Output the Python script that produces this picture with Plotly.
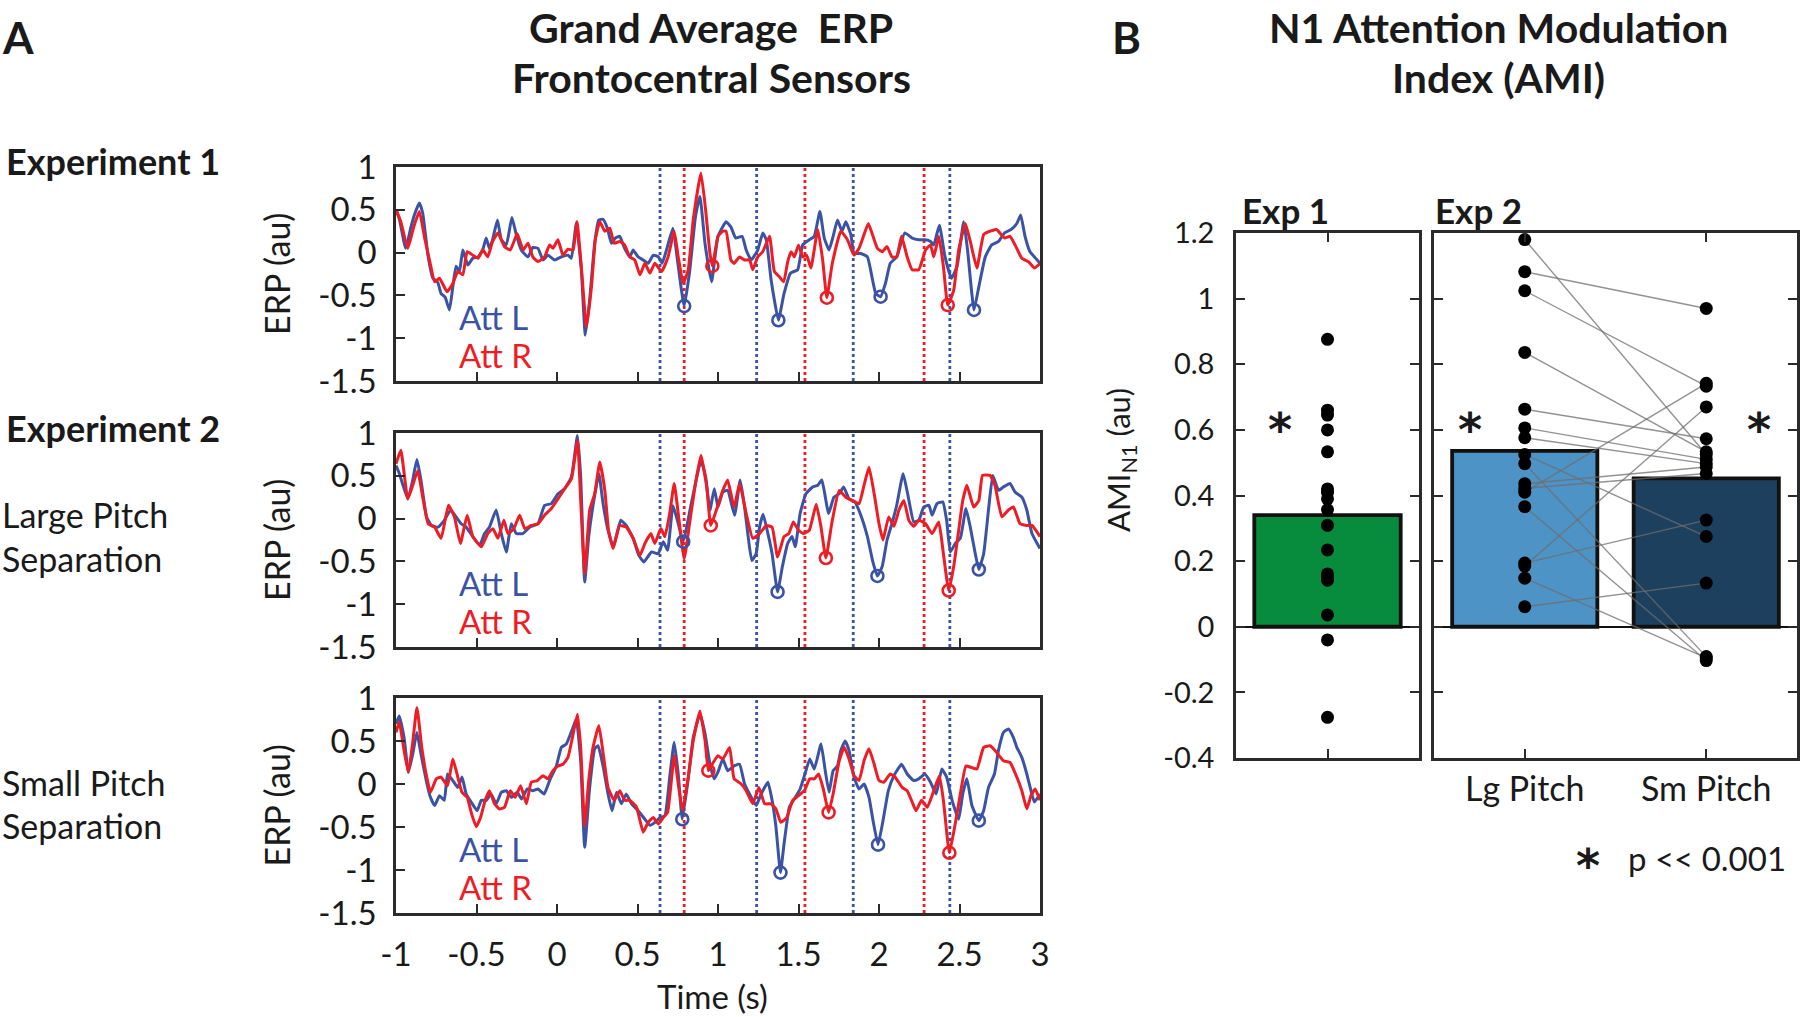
import plotly.graph_objects as go

# ---------------- DATA ----------------
# Panel A: grand-average ERP traces, (time s, amplitude au)
erp_attL_exp1 = [(-1.0,0.5),(-0.98,0.40),(-0.94,0.05),(-0.907,0.30),(-0.886,0.44),(-0.855,0.58),(-0.834,0.46),(-0.80,-0.05),(-0.77,-0.30),(-0.74,-0.35),(-0.72,-0.48),(-0.695,-0.52),(-0.668,-0.67),(-0.647,-0.40),(-0.627,-0.16),(-0.606,-0.22),(-0.585,0.03),(-0.554,-0.145),(-0.523,-0.066),(-0.49,-0.05),(-0.46,0.04),(-0.44,0.17),(-0.42,0.05),(-0.40,0.15),(-0.37,0.38),(-0.346,0.15),(-0.315,0.09),(-0.28,0.41),(-0.253,0.21),(-0.222,0.03),(-0.18,-0.05),(-0.15,0.06),(-0.118,0.05),(-0.087,-0.086),(-0.056,-0.03),(-0.015,-0.086),(0.027,-0.05),(0.068,-0.03),(0.089,-0.066),(0.12,0.34),(0.151,-0.20),(0.176,-0.965),(0.203,-0.55),(0.234,0.11),(0.259,0.38),(0.286,0.39),(0.313,0.285),(0.338,0.11),(0.363,0.17),(0.39,0.19),(0.42,0.05),(0.452,-0.05),(0.473,0.03),(0.504,-0.05),(0.535,-0.086),(0.566,-0.125),(0.598,-0.03),(0.63,-0.05),(0.653,-0.125),(0.68,0.03),(0.72,0.285),(0.748,-0.086),(0.79,-0.625),(0.825,-0.20),(0.86,0.42),(0.888,0.656),(0.919,0.11),(0.96,-0.34),(1.0,0.19),(1.05,0.36),(1.08,0.30),(1.11,0.17),(1.15,0.19),(1.175,0.03),(1.206,-0.086),(1.247,0.03),(1.278,0.23),(1.30,0.15),(1.33,-0.32),(1.375,-0.79),(1.41,-0.48),(1.45,-0.24),(1.495,-0.20),(1.526,0.09),(1.567,0.15),(1.598,0.19),(1.633,0.48),(1.66,0.17),(1.69,0.03),(1.715,0.19),(1.742,0.38),(1.77,0.25),(1.794,0.36),(1.825,0.21),(1.845,-0.01),(1.887,-0.01),(1.928,-0.05),(1.96,-0.32),(1.98,-0.48),(2.01,-0.515),(2.04,-0.36),(2.07,-0.125),(2.11,-0.05),(2.16,0.23),(2.206,0.17),(2.247,0.15),(2.289,0.15),(2.32,0.13),(2.34,0.09),(2.375,0.32),(2.41,-0.05),(2.45,-0.30),(2.485,-0.16),(2.526,0.36),(2.55,0.03),(2.59,-0.67),(2.62,-0.40),(2.66,-0.05),(2.70,0.09),(2.742,0.13),(2.78,0.23),(2.82,0.27),(2.856,0.34),(2.88,0.44),(2.907,0.19),(2.938,0.01),(2.965,-0.05),(3.0,-0.125)]
erp_attR_exp1 = [(-1.0,0.5),(-0.97,0.36),(-0.927,0.05),(-0.89,0.30),(-0.855,0.48),(-0.82,0.15),(-0.79,-0.105),(-0.76,-0.34),(-0.73,-0.30),(-0.683,-0.457),(-0.647,-0.36),(-0.616,-0.22),(-0.585,-0.26),(-0.558,0.01),(-0.523,-0.03),(-0.49,-0.066),(-0.46,0.03),(-0.43,-0.05),(-0.40,0.13),(-0.367,0.23),(-0.326,0.07),(-0.29,0.03),(-0.247,0.22),(-0.21,0.03),(-0.18,0.11),(-0.15,-0.05),(-0.118,-0.105),(-0.077,-0.05),(-0.046,0.09),(-0.025,0.05),(0.006,0.15),(0.037,-0.03),(0.068,0.04),(0.10,0.03),(0.124,0.36),(0.151,-0.16),(0.183,-0.87),(0.214,-0.40),(0.238,0.15),(0.266,0.36),(0.297,0.25),(0.328,0.285),(0.355,0.11),(0.39,0.13),(0.42,0.09),(0.452,-0.05),(0.483,-0.086),(0.515,-0.26),(0.546,-0.125),(0.577,-0.24),(0.608,-0.125),(0.65,-0.22),(0.69,-0.05),(0.728,0.25),(0.753,-0.05),(0.784,-0.36),(0.815,-0.20),(0.846,0.38),(0.894,0.93),(0.923,0.50),(0.95,-0.01),(0.965,-0.156),(1.0,0.19),(1.03,0.25),(1.05,0.25),(1.08,-0.086),(1.10,-0.125),(1.134,-0.05),(1.165,-0.086),(1.196,-0.086),(1.216,-0.20),(1.247,-0.05),(1.278,0.01),(1.32,0.19),(1.35,-0.22),(1.38,-0.28),(1.408,-0.34),(1.433,-0.105),(1.454,0.01),(1.474,-0.05),(1.50,0.09),(1.526,-0.05),(1.55,-0.03),(1.577,-0.18),(1.62,0.27),(1.65,-0.086),(1.676,-0.527),(1.71,-0.125),(1.763,0.25),(1.804,0.15),(1.845,-0.03),(1.876,0.05),(1.907,0.21),(1.934,0.34),(1.963,0.19),(1.99,0.05),(2.02,0.01),(2.05,0.07),(2.08,-0.05),(2.11,-0.05),(2.14,0.19),(2.175,-0.05),(2.206,-0.20),(2.247,-0.20),(2.289,0.03),(2.32,0.09),(2.34,-0.05),(2.371,0.19),(2.40,-0.16),(2.427,-0.613),(2.464,-0.44),(2.495,0.03),(2.536,0.34),(2.567,0.13),(2.608,-0.18),(2.65,0.21),(2.69,0.25),(2.73,0.27),(2.78,0.17),(2.814,0.19),(2.845,0.09),(2.887,-0.066),(2.928,-0.105),(2.965,-0.18),(3.0,-0.125)]
erp_attL_large = [(-1.0,0.62),(-0.98,0.53),(-0.927,0.23),(-0.896,0.45),(-0.87,0.69),(-0.845,0.45),(-0.81,0.02),(-0.78,-0.08),(-0.74,-0.10),(-0.70,-0.02),(-0.66,0.10),(-0.627,0.02),(-0.595,-0.06),(-0.564,-0.10),(-0.523,-0.21),(-0.48,-0.31),(-0.45,-0.175),(-0.42,-0.10),(-0.378,0.10),(-0.346,-0.175),(-0.315,-0.39),(-0.284,-0.06),(-0.253,-0.175),(-0.212,-0.175),(-0.17,-0.10),(-0.118,-0.06),(-0.077,0.155),(-0.035,0.175),(0.006,0.29),(0.048,0.35),(0.09,0.49),(0.127,0.97),(0.147,0.49),(0.172,-0.74),(0.197,-0.21),(0.224,0.155),(0.26,0.525),(0.286,0.175),(0.317,-0.136),(0.349,-0.33),(0.396,-0.02),(0.43,-0.08),(0.473,-0.23),(0.508,-0.43),(0.54,-0.506),(0.587,-0.39),(0.628,-0.41),(0.66,-0.27),(0.687,-0.37),(0.72,0.15),(0.745,0.0),(0.784,-0.27),(0.826,0.10),(0.86,0.41),(0.894,0.68),(0.923,0.49),(0.95,0.10),(0.977,0.35),(1.0,0.136),(1.03,0.31),(1.06,0.33),(1.103,0.04),(1.138,0.45),(1.165,0.136),(1.185,-0.175),(1.21,-0.49),(1.237,-0.41),(1.258,-0.10),(1.28,0.05),(1.31,-0.175),(1.336,-0.41),(1.37,-0.856),(1.40,-0.56),(1.433,-0.29),(1.46,-0.21),(1.48,-0.33),(1.51,0.06),(1.546,0.29),(1.588,0.37),(1.62,0.39),(1.645,0.45),(1.687,0.06),(1.72,0.25),(1.753,0.29),(1.78,0.37),(1.814,0.23),(1.85,0.195),(1.887,0.04),(1.928,-0.21),(1.96,-0.49),(1.99,-0.67),(2.02,-0.56),(2.05,-0.25),(2.08,-0.06),(2.11,0.155),(2.15,0.525),(2.18,0.27),(2.216,-0.04),(2.247,-0.02),(2.278,0.136),(2.31,0.155),(2.33,0.04),(2.36,0.175),(2.396,0.195),(2.42,-0.02),(2.443,-0.39),(2.474,-0.29),(2.505,-0.23),(2.54,0.117),(2.567,-0.10),(2.598,-0.41),(2.62,-0.595),(2.65,-0.41),(2.68,0.10),(2.707,0.505),(2.742,0.33),(2.773,0.37),(2.814,0.41),(2.845,0.31),(2.887,0.25),(2.918,0.10),(2.95,-0.175),(3.0,-0.35)]
erp_attR_large = [(-1.0,0.64),(-0.97,0.80),(-0.927,0.23),(-0.896,0.39),(-0.865,0.56),(-0.834,0.25),(-0.80,-0.06),(-0.76,-0.10),(-0.72,-0.23),(-0.674,0.155),(-0.637,0.02),(-0.60,-0.29),(-0.558,0.04),(-0.523,-0.21),(-0.47,-0.33),(-0.43,-0.175),(-0.398,-0.117),(-0.367,-0.23),(-0.33,-0.02),(-0.305,-0.175),(-0.268,-0.117),(-0.232,0.04),(-0.20,-0.117),(-0.16,-0.08),(-0.118,-0.06),(-0.077,0.04),(-0.035,0.117),(0.006,0.23),(0.048,0.35),(0.09,0.467),(0.127,0.91),(0.15,0.10),(0.172,-0.64),(0.203,0.10),(0.234,0.29),(0.266,0.66),(0.297,0.33),(0.32,-0.136),(0.349,-0.35),(0.39,-0.08),(0.43,-0.10),(0.473,-0.23),(0.515,-0.43),(0.546,-0.29),(0.583,-0.175),(0.608,-0.29),(0.645,-0.117),(0.67,-0.21),(0.70,0.06),(0.728,0.41),(0.753,0.06),(0.79,-0.47),(0.826,-0.02),(0.86,0.41),(0.894,0.74),(0.93,0.37),(0.955,-0.08),(0.99,0.10),(1.03,0.33),(1.06,0.45),(1.10,0.136),(1.134,0.41),(1.175,0.06),(1.216,-0.23),(1.258,-0.175),(1.30,-0.08),(1.336,-0.10),(1.37,-0.45),(1.41,-0.21),(1.44,-0.175),(1.468,-0.04),(1.50,-0.136),(1.53,-0.175),(1.567,-0.136),(1.61,0.167),(1.64,-0.10),(1.67,-0.46),(1.71,-0.02),(1.753,0.33),(1.794,0.25),(1.835,0.21),(1.876,0.175),(1.907,0.39),(1.938,0.60),(1.97,0.29),(2.0,-0.06),(2.025,-0.25),(2.06,0.02),(2.093,-0.09),(2.124,0.10),(2.155,0.21),(2.185,-0.02),(2.216,-0.09),(2.247,-0.02),(2.289,-0.06),(2.33,-0.175),(2.371,-0.04),(2.40,-0.41),(2.433,-0.84),(2.464,-0.56),(2.495,-0.136),(2.52,0.21),(2.546,0.39),(2.588,0.136),(2.62,0.21),(2.643,0.505),(2.69,0.505),(2.72,0.39),(2.763,0.02),(2.804,0.10),(2.835,0.136),(2.876,-0.06),(2.918,-0.08),(2.95,-0.08),(3.0,-0.21)]
erp_attL_small = [(-1.0,0.70),(-0.98,0.79),(-0.95,0.54),(-0.923,0.136),(-0.896,0.35),(-0.87,0.60),(-0.845,0.35),(-0.81,0.02),(-0.786,-0.155),(-0.76,-0.25),(-0.73,-0.136),(-0.70,-0.19),(-0.68,0.116),(-0.647,0.04),(-0.616,-0.04),(-0.59,0.08),(-0.564,-0.116),(-0.533,-0.21),(-0.496,-0.31),(-0.47,-0.19),(-0.44,-0.19),(-0.41,-0.116),(-0.378,-0.23),(-0.346,-0.097),(-0.315,-0.078),(-0.284,-0.155),(-0.247,-0.097),(-0.22,-0.174),(-0.185,-0.058),(-0.15,-0.078),(-0.118,-0.058),(-0.08,-0.116),(-0.046,0.04),(-0.004,0.21),(0.027,0.426),(0.058,0.465),(0.10,0.66),(0.12,0.756),(0.147,0.27),(0.172,-0.736),(0.203,-0.04),(0.234,0.41),(0.255,0.445),(0.286,0.21),(0.317,-0.116),(0.342,-0.31),(0.37,-0.097),(0.40,-0.23),(0.43,-0.116),(0.463,-0.23),(0.504,-0.31),(0.546,-0.41),(0.577,-0.48),(0.608,-0.446),(0.64,-0.39),(0.67,-0.37),(0.70,0.08),(0.728,0.485),(0.753,0.116),(0.778,-0.41),(0.815,0.06),(0.846,0.54),(0.888,0.81),(0.92,0.58),(0.95,0.23),(0.977,0.06),(1.0,0.14),(1.03,0.29),(1.06,0.155),(1.10,0.21),(1.134,0.23),(1.165,0.0),(1.196,-0.116),(1.237,-0.25),(1.268,-0.116),(1.31,0.02),(1.336,-0.19),(1.36,-0.50),(1.388,-1.03),(1.41,-0.70),(1.443,-0.27),(1.474,-0.174),(1.51,-0.058),(1.54,0.116),(1.57,0.29),(1.598,0.174),(1.64,0.465),(1.666,0.155),(1.69,-0.097),(1.715,0.155),(1.742,0.21),(1.763,0.39),(1.79,0.50),(1.814,0.39),(1.845,0.08),(1.876,-0.058),(1.907,0.0),(1.938,-0.155),(1.963,-0.426),(1.994,-0.705),(2.025,-0.426),(2.058,-0.078),(2.093,0.097),(2.14,0.23),(2.175,0.116),(2.216,0.04),(2.247,0.06),(2.285,0.116),(2.32,0.02),(2.355,-0.116),(2.39,0.174),(2.42,0.08),(2.454,-0.19),(2.495,-0.41),(2.52,-0.116),(2.546,0.06),(2.577,-0.25),(2.62,-0.426),(2.65,-0.31),(2.68,-0.04),(2.717,0.116),(2.742,0.39),(2.773,0.60),(2.804,0.64),(2.835,0.54),(2.856,0.426),(2.887,0.31),(2.918,0.116),(2.944,-0.078),(2.965,-0.21),(3.0,-0.116)]
erp_attR_small = [(-1.0,0.60),(-0.98,0.72),(-0.948,0.37),(-0.923,0.136),(-0.896,0.485),(-0.87,0.89),(-0.84,0.426),(-0.813,0.116),(-0.786,-0.097),(-0.75,0.06),(-0.72,0.08),(-0.68,-0.02),(-0.647,0.29),(-0.616,0.08),(-0.59,-0.097),(-0.558,-0.155),(-0.53,-0.35),(-0.502,-0.496),(-0.475,-0.39),(-0.446,-0.19),(-0.42,-0.078),(-0.388,-0.23),(-0.357,-0.29),(-0.326,-0.27),(-0.29,-0.078),(-0.26,-0.155),(-0.226,-0.02),(-0.19,-0.23),(-0.16,0.02),(-0.122,0.04),(-0.087,0.097),(-0.056,0.06),(-0.025,0.155),(0.006,0.21),(0.037,0.23),(0.068,0.31),(0.10,0.58),(0.127,0.81),(0.147,0.426),(0.172,-0.485),(0.197,0.04),(0.224,0.426),(0.26,0.68),(0.29,0.31),(0.317,-0.04),(0.355,-0.19),(0.39,-0.078),(0.42,-0.19),(0.452,-0.19),(0.494,-0.27),(0.535,-0.56),(0.566,-0.446),(0.598,-0.39),(0.63,-0.465),(0.66,-0.39),(0.687,-0.33),(0.728,0.33),(0.753,0.0),(0.78,-0.31),(0.815,0.08),(0.846,0.50),(0.888,0.85),(0.92,0.50),(0.94,0.155),(0.97,0.25),(1.0,0.33),(1.03,0.29),(1.072,0.426),(1.10,0.06),(1.144,0.0),(1.175,-0.078),(1.216,-0.23),(1.254,-0.04),(1.29,-0.23),(1.33,-0.23),(1.36,-0.29),(1.39,-0.446),(1.427,-0.39),(1.464,-0.19),(1.50,-0.136),(1.536,-0.078),(1.57,0.06),(1.598,0.06),(1.625,0.116),(1.654,-0.058),(1.687,-0.33),(1.715,-0.116),(1.753,0.27),(1.784,0.426),(1.814,0.29),(1.845,0.097),(1.876,0.04),(1.907,0.27),(1.938,0.41),(1.97,0.23),(2.0,0.04),(2.03,0.02),(2.07,0.116),(2.10,0.08),(2.144,-0.04),(2.175,-0.078),(2.206,-0.21),(2.23,-0.31),(2.264,-0.19),(2.30,-0.27),(2.34,-0.078),(2.375,0.097),(2.40,-0.19),(2.437,-0.80),(2.47,-0.50),(2.505,-0.116),(2.54,0.21),(2.577,0.19),(2.608,0.174),(2.65,0.426),(2.69,0.445),(2.73,0.37),(2.773,0.27),(2.814,0.25),(2.856,0.08),(2.887,-0.078),(2.918,-0.29),(2.944,-0.136),(2.97,-0.058),(3.0,-0.19)]

# N1 peak markers (time, amplitude)
n1_attL_exp1 = [(0.79,-0.625),(1.375,-0.79),(2.01,-0.515),(2.59,-0.67)]
n1_attR_exp1 = [(0.965,-0.156),(1.676,-0.527),(2.427,-0.613)]
n1_attL_large = [(0.784,-0.27),(1.37,-0.856),(1.99,-0.67),(2.62,-0.595)]
n1_attR_large = [(0.955,-0.08),(1.67,-0.46),(2.433,-0.84)]
n1_attL_small = [(0.778,-0.41),(1.388,-1.03),(1.994,-0.705),(2.62,-0.426)]
n1_attR_small = [(0.94,0.155),(1.687,-0.33),(2.437,-0.80)]

# tone onsets (s)
onsets_L = [0.64, 1.24, 1.84, 2.44]
onsets_R = [0.79, 1.54, 2.28]

time_ticks = [-1, -0.5, 0, 0.5, 1, 1.5, 2, 2.5, 3]
time_ticktext = ["-1", "-0.5", "0", "0.5", "1", "1.5", "2", "2.5", "3"]
erp_ticks = [-1.5, -1, -0.5, 0, 0.5, 1]
erp_ticktext = ["-1.5", "-1", "-0.5", "0", "0.5", "1"]

# Panel B: AMI
exp1_mean = 0.34
exp1_subjects = [0.876, 0.66, 0.645, 0.60, 0.533, 0.42, 0.41, 0.39, 0.357, 0.309, 0.234, 0.161, 0.154, 0.142, 0.036, -0.04, -0.276]
exp2_categories = ["Lg Pitch", "Sm Pitch"]
exp2_means = [0.536, 0.452]
lg_subjects = [1.18, 1.082, 1.024, 0.836, 0.663, 0.606, 0.576, 0.525, 0.497, 0.436, 0.422, 0.41, 0.366, 0.194, 0.185, 0.148, 0.061]
sm_subjects = [0.525, 0.97, 0.733, 0.533, 0.573, 0.51, 0.497, 0.275, -0.091, 0.487, 0.467, 0.742, -0.103, 0.325, 0.67, -0.095, 0.133]
ami_ticks = [-0.4, -0.2, 0, 0.2, 0.4, 0.6, 0.8, 1, 1.2]
ami_ticktext = ["-0.4", "-0.2", "0", "0.2", "0.4", "0.6", "0.8", "1", "1.2"]

# ---------------- STYLE / LAYOUT ----------------
W, H = 1800, 1017
FONT = "Lato"
BLUE = "#3A53A4"
RED = "#EE1D25"
FRAME = "#2b2b2b"
TXT = "#1a1a1a"

def fx(p):
    return p / W

def fy(p):
    return 1 - p / H

fig = go.Figure()

erp_rows = [
    (erp_attL_exp1, erp_attR_exp1, n1_attL_exp1, n1_attR_exp1, (167, 381)),
    (erp_attL_large, erp_attR_large, n1_attL_large, n1_attR_large, (433, 647)),
    (erp_attL_small, erp_attR_small, n1_attL_small, n1_attR_small, (698, 913)),
]

shapes = []
annotations = []
layout_axes = {}

for i, (cL, cR, pL, pR, (ytop, ybot)) in enumerate(erp_rows, start=1):
    xa = "x" if i == 1 else f"x{i}"
    ya = "y" if i == 1 else f"y{i}"
    for curve, col in ((cL, BLUE), (cR, RED)):
        fig.add_trace(go.Scatter(
            x=[p[0] for p in curve], y=[p[1] for p in curve], mode="lines",
            line=dict(color=col, width=3, shape="spline", smoothing=0.4),
            xaxis=xa, yaxis=ya, hoverinfo="skip"))
    for pk, col in ((pL, BLUE), (pR, RED)):
        fig.add_trace(go.Scatter(
            x=[p[0] for p in pk], y=[p[1] for p in pk], mode="markers",
            marker=dict(symbol="circle-open", size=12, color=col, line=dict(width=2.6, color=col)),
            xaxis=xa, yaxis=ya, hoverinfo="skip"))
    for onset_list, col in ((onsets_L, BLUE), (onsets_R, RED)):
        for t in onset_list:
            shapes.append(dict(type="line", xref=xa, yref=f"{ya} domain", x0=t, x1=t, y0=0, y1=1,
                               line=dict(color=col, width=2.8, dash="dot"), layer="below"))
    annotations.append(dict(xref=xa, yref=ya, x=-0.62, y=-0.75, text="Att L", showarrow=False,
                            xanchor="left", yanchor="middle", font=dict(family=FONT, size=33, color=BLUE)))
    annotations.append(dict(xref=xa, yref=ya, x=-0.62, y=-1.20, text="Att R", showarrow=False,
                            xanchor="left", yanchor="middle", font=dict(family=FONT, size=33, color=RED)))
    axis_common = dict(showgrid=False, zeroline=False, showline=True, linecolor=FRAME, linewidth=2.5,
                       mirror=True, ticks="inside", ticklen=9, tickwidth=2, tickcolor=FRAME, automargin=False,
                       tickfont=dict(family=FONT, size=33, color=TXT))
    xkey = "xaxis" if i == 1 else f"xaxis{i}"
    ykey = "yaxis" if i == 1 else f"yaxis{i}"
    layout_axes[xkey] = dict(axis_common, domain=[fx(396), fx(1040)], range=[-1, 3], anchor=ya,
                             tickvals=time_ticks, ticktext=time_ticktext,
                             showticklabels=(i == 3), ticklabelstandoff=11)
    layout_axes[ykey] = dict(axis_common, domain=[fy(ybot), fy(ytop)], range=[-1.5, 1], anchor=xa,
                             tickvals=erp_ticks, ticktext=erp_ticktext, ticklabelstandoff=10)
    annotations.append(dict(xref="paper", yref="paper", x=fx(276), y=fy((ytop + ybot) / 2),
                            xanchor="center", yanchor="middle",
                            text="ERP (au)", textangle=-90, showarrow=False,
                            font=dict(family=FONT, size=34, color=TXT)))

# Panel B bars
fig.add_trace(go.Bar(x=[1], y=[exp1_mean], width=0.8, marker=dict(color="#078B3D", line=dict(color="#111", width=3.8)),
                     xaxis="x4", yaxis="y4", hoverinfo="skip"))
fig.add_trace(go.Scatter(x=[1] * len(exp1_subjects), y=exp1_subjects, mode="markers",
                         marker=dict(color="black", size=13), xaxis="x4", yaxis="y4", hoverinfo="skip"))

fig.add_trace(go.Bar(x=[1, 2], y=exp2_means, width=0.8,
                     marker=dict(color=["#4E93C6", "#1D405F"], line=dict(color="#111", width=3.8)),
                     xaxis="x5", yaxis="y5", hoverinfo="skip"))
lx, ly = [], []
for a, b in zip(lg_subjects, sm_subjects):
    lx += [1, 2, None]
    ly += [a, b, None]
fig.add_trace(go.Scatter(x=lx, y=ly, mode="lines", line=dict(color="rgba(110,110,110,0.75)", width=1.4),
                         xaxis="x5", yaxis="y5", hoverinfo="skip"))
fig.add_trace(go.Scatter(x=[1] * len(lg_subjects) + [2] * len(sm_subjects), y=lg_subjects + sm_subjects,
                         mode="markers", marker=dict(color="black", size=13), xaxis="x5", yaxis="y5", hoverinfo="skip"))

b_common = dict(showgrid=False, showline=True, linecolor=FRAME, linewidth=2.5, mirror="ticks",
                ticks="inside", ticklen=9, tickwidth=2, tickcolor=FRAME, automargin=False,
                tickfont=dict(family=FONT, size=29, color=TXT))
ydomB = [fy(758), fy(233)]
layout_axes["xaxis4"] = dict(b_common, domain=[fx(1236), fx(1419)], range=[0.5, 1.5], anchor="y4",
                             tickvals=[1], showticklabels=False, zeroline=False)
layout_axes["yaxis4"] = dict(b_common, domain=ydomB, range=[-0.4, 1.2], anchor="x4",
                             tickvals=ami_ticks, ticktext=ami_ticktext, ticklabelstandoff=13,
                             zeroline=True, zerolinecolor="#111", zerolinewidth=1.5)
layout_axes["xaxis5"] = dict(b_common, domain=[fx(1434), fx(1797)], range=[0.5, 2.5], anchor="y5",
                             tickvals=[1, 2], ticktext=exp2_categories, zeroline=False,
                             ticklabelstandoff=-1, tickfont=dict(family=FONT, size=34, color=TXT))
layout_axes["yaxis5"] = dict(b_common, domain=ydomB, range=[-0.4, 1.2], anchor="x5",
                             tickvals=ami_ticks, showticklabels=False,
                             zeroline=True, zerolinecolor="#111", zerolinewidth=1.5)

# significance stars
for xr, yr, xv in (("x4", "y4", 0.74), ("x5", "y5", 0.70), ("x5", "y5", 2.29)):
    annotations.append(dict(xref=xr, yref=yr, x=xv, y=0.60, text="*", showarrow=False,
                            font=dict(family="DejaVu Sans", size=46, color=TXT, weight="bold")))

def txt(x, y, s, size, bold=False, anchor="center", color=TXT, angle=0, family=FONT):
    annotations.append(dict(xref="paper", yref="paper", x=fx(x), y=fy(y), text=s, showarrow=False,
                            xanchor=anchor, yanchor="middle", textangle=angle,
                            font=dict(family=family, size=size, color=color, weight=("bold" if bold else "normal"))))

txt(0, 37, "A", 44, bold=True, anchor="left")
txt(1110, 37, "B", 44, bold=True, anchor="left")
txt(711, 27, "Grand Average  ERP", 41, bold=True)
txt(711, 77, "Frontocentral Sensors", 41, bold=True)
txt(1498, 27, "N1 Attention Modulation", 41, bold=True)
txt(1498, 77, "Index (AMI)", 41, bold=True)
txt(4, 161, "Experiment 1", 36, bold=True, anchor="left")
txt(4, 428, "Experiment 2", 36, bold=True, anchor="left")
txt(0, 514, "Large Pitch", 34, anchor="left")
txt(0, 558, "Separation", 34, anchor="left")
txt(0, 782, "Small Pitch", 34, anchor="left")
txt(0, 825, "Separation", 34, anchor="left")
txt(712, 996, "Time (s)", 33)
txt(1120, 460, "AMI<sub>N1</sub> (au)", 31, angle=-90)
txt(1240, 210, "Exp 1", 35, bold=True, anchor="left")
txt(1433, 210, "Exp 2", 35, bold=True, anchor="left")
txt(1588, 866, "*", 46, bold=True, family="DejaVu Sans")
txt(1626, 858, "p << 0.001", 33, anchor="left")

fig.update_layout(width=W, height=H, margin=dict(l=0, r=0, t=0, b=0, pad=0), autosize=False,
                  paper_bgcolor="white", plot_bgcolor="white", showlegend=False,
                  font=dict(family=FONT), shapes=shapes, annotations=annotations, **layout_axes)

fig.write_html("out.html", config={"displayModeBar": False},
               post_script="document.body.style.margin='0';document.body.style.overflow='hidden';")
